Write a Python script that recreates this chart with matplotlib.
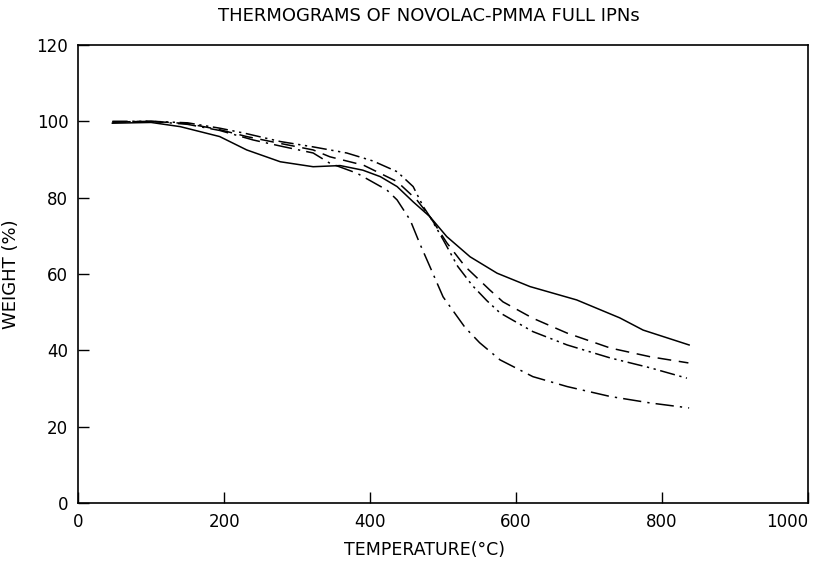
import matplotlib.pyplot as plt

# temperature (C) and weight (%)
t_solid = [47, 100, 140, 194, 231, 277, 322, 359, 390, 414, 437, 459, 482,
           505, 537, 574, 619, 683, 742, 774, 837]
w_solid = [99.5, 99.7, 98.6, 96.0, 92.5, 89.4, 88.1, 88.4, 87.2, 85.5, 82.9,
           78.9, 75.0, 69.8, 64.5, 60.2, 56.7, 53.2, 48.5, 45.3, 41.4]

t_dash = [47, 100, 150, 194, 231, 277, 322, 345, 391, 437, 464, 482, 505,
          530, 564, 582, 623, 670, 729, 784, 836]
w_dash = [99.8, 100.0, 99.4, 97.8, 96.0, 94.2, 92.5, 90.7, 88.5, 84.2, 79.4,
          75.0, 68.2, 62.0, 55.8, 52.7, 48.4, 44.5, 40.6, 38.3, 36.7]

t_dd = [47, 100, 150, 194, 230, 277, 322, 368, 404, 437, 459, 473, 482,
        500, 520, 540, 560, 578, 623, 670, 729, 784, 834]
w_dd = [100.0, 100.0, 99.6, 98.2, 96.8, 94.7, 93.3, 91.7, 89.6, 86.8, 82.9,
        77.6, 75.0, 69.0, 62.0, 57.0, 53.0, 49.8, 44.9, 41.4, 38.0, 35.4, 32.7]

t_dot = [47, 100, 150, 194, 240, 280, 322, 345, 382, 423, 437, 455, 468,
         482, 500, 530, 550, 578, 623, 670, 729, 784, 837]
w_dot = [99.8, 100.0, 99.2, 97.6, 95.1, 93.4, 91.7, 89.0, 86.4, 82.0, 79.4,
         74.1, 68.0, 61.9, 54.0, 46.0, 42.0, 37.5, 33.1, 30.5, 27.9, 26.2, 24.9]

xticks = [0, 200, 400, 600, 800, 1000]
yticks = [0, 20, 40, 60, 80, 100, 120]

fig = plt.figure(figsize=(8.13, 5.62), dpi=100)
ax = fig.add_axes([0.096, 0.105, 0.898, 0.815])

ax.plot(t_solid, w_solid, color='black', lw=1.1)
ax.plot(t_dash, w_dash, color='black', lw=1.1, dashes=(9, 5))
ax.plot(t_dd, w_dd, color='black', lw=1.1, dashes=(10, 3, 1.5, 3, 1.5, 3))
ax.plot(t_dot, w_dot, color='black', lw=1.1, dashes=(12, 4, 1.5, 4))

ax.set_xlim(0, 1000)
ax.set_ylim(0, 120)
ax.set_xticks(xticks)
ax.set_yticks(yticks)
ax.tick_params(direction='in', length=8, width=1, labelsize=12, pad=7)
ax.get_xticklabels()[-1].set_horizontalalignment('right')
for s in ax.spines.values():
    s.set_linewidth(1.2)

ax.set_xlabel("TEMPERATURE(\u00b0C)", fontsize=12.5)
ax.xaxis.set_label_coords(0.474, -0.083)
ax.set_ylabel("WEIGHT (%)", fontsize=13)
ax.yaxis.set_label_coords(-0.08, 0.5)
fig.text(0.527, 0.971, "THERMOGRAMS OF NOVOLAC-PMMA FULL IPNs",
         ha='center', va='center', fontsize=13)

fig.savefig("out.png", dpi=100)
